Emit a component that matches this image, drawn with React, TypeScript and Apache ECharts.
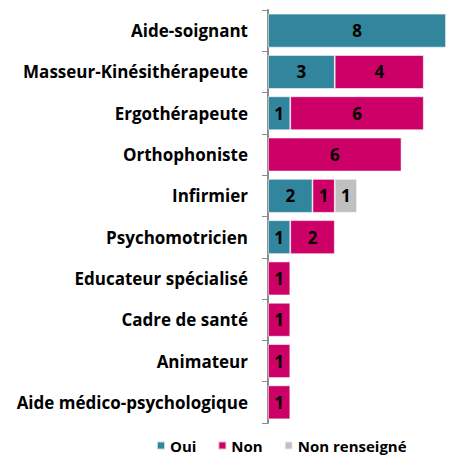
import React, { useEffect, useRef } from "react";
import * as echarts from "echarts";

const categories = [
  "Aide-soignant",
  "Masseur-Kinésithérapeute",
  "Ergothérapeute",
  "Orthophoniste",
  "Infirmier",
  "Psychomotricien",
  "Educateur spécialisé",
  "Cadre de santé",
  "Animateur",
  "Aide médico-psychologique",
];
const oui = [8, 3, 1, 0, 2, 1, 0, 0, 0, 0];
const non = [0, 4, 6, 6, 1, 2, 1, 1, 1, 1];
const nonRenseigne = [0, 0, 0, 0, 1, 0, 0, 0, 0, 0];

const FONT = "Open Sans";

export default function App() {
  const ref = useRef<HTMLDivElement>(null);
  useEffect(() => {
    if (!ref.current) return;
    const chart = echarts.init(ref.current, undefined, { renderer: "svg" });
    const mk = (name: string, data: number[], color: string) => ({
      name,
      type: "bar",
      stack: "total",
      barCategoryGap: "18%",
      data: data.map((v) => (v === 0 ? null : v)),
      itemStyle: { color, borderColor: "rgba(255,255,255,0.7)", borderWidth: 0.8 },
      label: {
        show: true,
        position: "inside",
        color: "#000",
        fontFamily: FONT,
        fontWeight: "bold",
        fontSize: 17,
      },
    });
    chart.setOption({
      animation: false,
      textStyle: { fontFamily: FONT },
      grid: { left: 260, right: 9, top: 2, bottom: 34, containLabel: false },
      legend: {
        top: 425,
        left: 143,
        itemWidth: 8,
        itemHeight: 8,
        itemGap: 21,
        icon: "rect",
        textStyle: { fontFamily: FONT, fontWeight: "bold", fontSize: 15, color: "#000" },
        data: ["Oui", "Non", "Non renseigné"],
      },
      xAxis: {
        type: "value",
        min: 0,
        max: 8,
        show: false,
      },
      yAxis: {
        type: "category",
        inverse: true,
        data: categories,
        axisLine: { show: true, lineStyle: { color: "#8c8c8c", width: 2 } },
        axisTick: { show: true, length: 6, lineStyle: { color: "#8c8c8c", width: 1 } },
        axisLabel: {
          margin: 20,
          fontFamily: FONT,
          fontWeight: "bold",
          fontSize: 17,
          color: "#000",
        },
      },
      series: [
        mk("Oui", oui, "#31859C"),
        mk("Non", non, "#CC0066"),
        mk("Non renseigné", nonRenseigne, "#BFBFBF"),
      ],
    });
    return () => chart.dispose();
  }, []);
  return <div ref={ref} style={{ width: 447, height: 449 }} />;
}
